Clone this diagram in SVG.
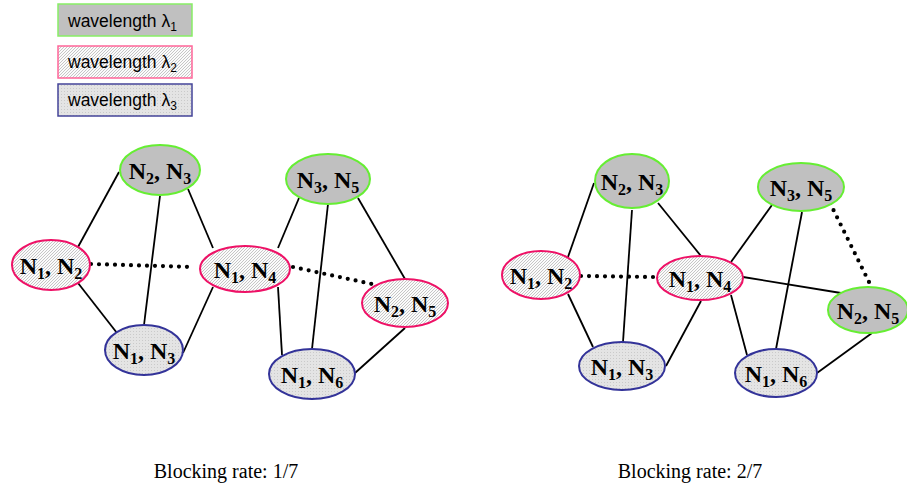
<svg xmlns="http://www.w3.org/2000/svg" width="907" height="487" viewBox="0 0 907 487">
  <defs>
    <!-- fine diagonal hatch for the λ2 fill -->
    <pattern id="hatch" width="3" height="3" patternUnits="userSpaceOnUse">
      <rect width="3" height="3" fill="#fbfbfb"/>
      <rect x="0" y="2" width="1" height="1" fill="#c6c6c6"/>
      <rect x="1" y="1" width="1" height="1" fill="#c6c6c6"/>
      <rect x="2" y="0" width="1" height="1" fill="#c6c6c6"/>
    </pattern>
    <!-- fine dot texture for the λ3 fill -->
    <pattern id="dots" width="3" height="3" patternUnits="userSpaceOnUse">
      <rect width="3" height="3" fill="#e4e4e4"/>
      <rect x="1" y="1" width="1" height="1" fill="#cacaca"/>
    </pattern>
  </defs>
  <style>
    .l1 { fill: #c0c0c0; stroke: #66ee33; stroke-width: 2; }
    .l2 { fill: url(#hatch); stroke: #ee1166; stroke-width: 2; }
    .l3 { fill: url(#dots); stroke: #333399; stroke-width: 2; }
    .k1 { fill: #c0c0c0; stroke: #88ee66; stroke-width: 1.5; }
    .k2 { fill: url(#hatch); stroke: #ff6699; stroke-width: 1.5; }
    .k3 { fill: url(#dots); stroke: #444499; stroke-width: 1.5; }
    .edge { stroke: #000; stroke-width: 1.8; fill: none; }
    .dotted { stroke: #000; stroke-width: 4.2; stroke-dasharray: 0 8; stroke-linecap: round; fill: none; }
    .lbl { font-family: "Liberation Serif", "Times New Roman", serif; font-weight: bold; font-size: 24px; fill: #000; text-anchor: middle; }
    .sub { font-size: 16px; }
    .key { font-family: "Liberation Sans", Arial, sans-serif; font-size: 17.5px; fill: #000; }
    .ksub { font-size: 12px; }
    .cap { font-family: "Liberation Serif", "Times New Roman", serif; font-size: 20px; fill: #000; text-anchor: middle; }
  </style>

  <!-- legend -->
  <g id="legend">
    <g id="key-l1">
      <rect class="k1" x="58" y="4" width="134" height="32"/>
      <text class="key" x="68" y="27">wavelength λ<tspan class="ksub" dy="4">1</tspan></text>
    </g>
    <g id="key-l2">
      <rect class="k2" x="58" y="46" width="134" height="32"/>
      <text class="key" x="68" y="68">wavelength λ<tspan class="ksub" dy="4">2</tspan></text>
    </g>
    <g id="key-l3">
      <rect class="k3" x="58" y="84" width="134" height="32"/>
      <text class="key" x="68" y="106">wavelength λ<tspan class="ksub" dy="4">3</tspan></text>
    </g>
  </g>

  <!-- connectors, left graph -->
  <g id="edges-left">
    <line class="edge" x1="119" y1="172" x2="78" y2="247"/>
    <line class="edge" x1="160" y1="196" x2="144" y2="325"/>
    <line class="edge" x1="188" y1="189" x2="213" y2="248"/>
    <line class="edge" x1="78" y1="283" x2="117" y2="333"/>
    <line class="edge" x1="183" y1="353" x2="213" y2="287"/>
    <line class="edge" x1="299" y1="198" x2="278" y2="248"/>
    <line class="edge" x1="328" y1="204" x2="312" y2="349"/>
    <line class="edge" x1="358" y1="198" x2="405" y2="279"/>
    <line class="edge" x1="278" y1="287" x2="282" y2="355"/>
    <line class="edge" x1="405" y1="328" x2="355" y2="373"/>
    <line class="dotted" x1="91" y1="264" x2="194" y2="267"/>
    <line class="dotted" x1="293" y1="267" x2="372" y2="284"/>
  </g>

  <!-- connectors, right graph -->
  <g id="edges-right">
    <line class="edge" x1="594" y1="183" x2="568" y2="257"/>
    <line class="edge" x1="632" y1="210" x2="623" y2="342"/>
    <line class="edge" x1="658" y1="203" x2="701" y2="256"/>
    <line class="edge" x1="568" y1="294" x2="593" y2="347"/>
    <line class="edge" x1="666" y1="366" x2="701" y2="301"/>
    <line class="edge" x1="731" y1="262" x2="772" y2="205"/>
    <line class="edge" x1="743" y1="277" x2="841" y2="293"/>
    <line class="edge" x1="731" y1="295" x2="747" y2="355"/>
    <line class="edge" x1="802" y1="212" x2="776" y2="349"/>
    <line class="edge" x1="872" y1="333" x2="817" y2="373"/>
    <line class="dotted" x1="581" y1="276" x2="654" y2="277"/>
    <line class="dotted" x1="830" y1="203" x2="870" y2="284"/>
  </g>

  <!-- nodes, left graph -->
  <g id="a-n2n3">
    <ellipse class="l1" cx="160" cy="170" rx="40" ry="25"/>
    <text class="lbl" x="160" y="179">N<tspan class="sub" dy="5">2</tspan><tspan dy="-5">, N</tspan><tspan class="sub" dy="5">3</tspan></text>
  </g>
  <g id="a-n3n5">
    <ellipse class="l1" cx="328" cy="179" rx="42" ry="25"/>
    <text class="lbl" x="328" y="188">N<tspan class="sub" dy="5">3</tspan><tspan dy="-5">, N</tspan><tspan class="sub" dy="5">5</tspan></text>
  </g>
  <g id="a-n1n2">
    <ellipse class="l2" cx="51" cy="265" rx="39" ry="25"/>
    <text class="lbl" x="51" y="274">N<tspan class="sub" dy="5">1</tspan><tspan dy="-5">, N</tspan><tspan class="sub" dy="5">2</tspan></text>
  </g>
  <g id="a-n1n4">
    <ellipse class="l2" cx="245" cy="269" rx="45" ry="23"/>
    <text class="lbl" x="245" y="278">N<tspan class="sub" dy="5">1</tspan><tspan dy="-5">, N</tspan><tspan class="sub" dy="5">4</tspan></text>
  </g>
  <g id="a-n2n5">
    <ellipse class="l2" cx="405" cy="303" rx="43" ry="24"/>
    <text class="lbl" x="405" y="312">N<tspan class="sub" dy="5">2</tspan><tspan dy="-5">, N</tspan><tspan class="sub" dy="5">5</tspan></text>
  </g>
  <g id="a-n1n3">
    <ellipse class="l3" cx="144" cy="350" rx="39" ry="25"/>
    <text class="lbl" x="144" y="359">N<tspan class="sub" dy="5">1</tspan><tspan dy="-5">, N</tspan><tspan class="sub" dy="5">3</tspan></text>
  </g>
  <g id="a-n1n6">
    <ellipse class="l3" cx="312" cy="374" rx="43" ry="25"/>
    <text class="lbl" x="312" y="383">N<tspan class="sub" dy="5">1</tspan><tspan dy="-5">, N</tspan><tspan class="sub" dy="5">6</tspan></text>
  </g>

  <!-- nodes, right graph -->
  <g id="b-n2n3">
    <ellipse class="l1" cx="632" cy="181" rx="37" ry="27"/>
    <text class="lbl" x="632" y="190">N<tspan class="sub" dy="5">2</tspan><tspan dy="-5">, N</tspan><tspan class="sub" dy="5">3</tspan></text>
  </g>
  <g id="b-n3n5">
    <ellipse class="l1" cx="801" cy="187" rx="43" ry="24"/>
    <text class="lbl" x="801" y="196">N<tspan class="sub" dy="5">3</tspan><tspan dy="-5">, N</tspan><tspan class="sub" dy="5">5</tspan></text>
  </g>
  <g id="b-n1n2">
    <ellipse class="l2" cx="541" cy="275" rx="39" ry="24"/>
    <text class="lbl" x="541" y="284">N<tspan class="sub" dy="5">1</tspan><tspan dy="-5">, N</tspan><tspan class="sub" dy="5">2</tspan></text>
  </g>
  <g id="b-n1n4">
    <ellipse class="l2" cx="700" cy="278" rx="43" ry="22"/>
    <text class="lbl" x="700" y="287">N<tspan class="sub" dy="5">1</tspan><tspan dy="-5">, N</tspan><tspan class="sub" dy="5">4</tspan></text>
  </g>
  <g id="b-n2n5">
    <ellipse class="l1" cx="868" cy="310" rx="40" ry="23"/>
    <text class="lbl" x="868" y="319">N<tspan class="sub" dy="5">2</tspan><tspan dy="-5">, N</tspan><tspan class="sub" dy="5">5</tspan></text>
  </g>
  <g id="b-n1n3">
    <ellipse class="l3" cx="622" cy="366" rx="43" ry="24"/>
    <text class="lbl" x="622" y="375">N<tspan class="sub" dy="5">1</tspan><tspan dy="-5">, N</tspan><tspan class="sub" dy="5">3</tspan></text>
  </g>
  <g id="b-n1n6">
    <ellipse class="l3" cx="776" cy="373" rx="41" ry="24"/>
    <text class="lbl" x="776" y="382">N<tspan class="sub" dy="5">1</tspan><tspan dy="-5">, N</tspan><tspan class="sub" dy="5">6</tspan></text>
  </g>

  <!-- captions -->
  <text class="cap" x="226" y="478">Blocking rate: 1/7</text>
  <text class="cap" x="690" y="478">Blocking rate: 2/7</text>
</svg>
